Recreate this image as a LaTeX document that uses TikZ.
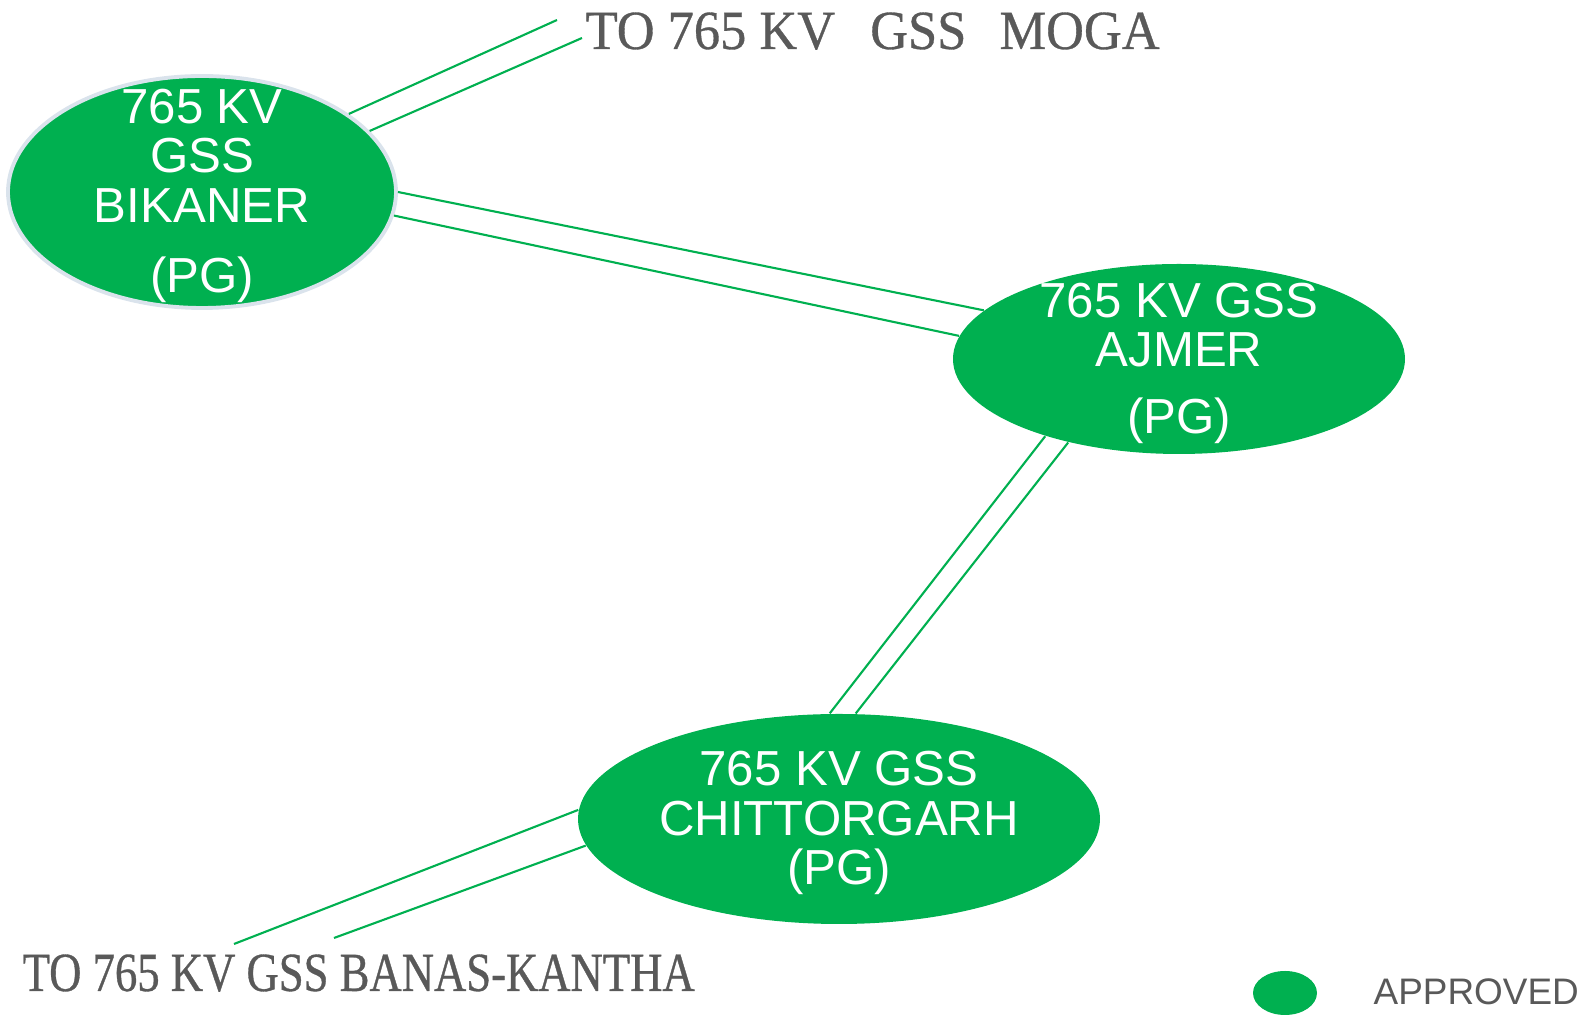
\documentclass[tikz,border=0pt]{standalone}
\usepackage{fontspec}
\setmainfont{Liberation Sans}
\newfontfamily\condserif{Liberation Serif}[FakeStretch=0.81,FakeBold=0.6]
\newfontfamily\wideserif{Liberation Serif}[FakeStretch=0.95,FakeBold=0.6]
\usepackage{tikz}
\usetikzlibrary{shapes.geometric,positioning}

\definecolor{gssgreen}{RGB}{0,176,80}
\definecolor{rimgray}{RGB}{218,227,236}
\definecolor{textgray}{RGB}{89,89,89}

\tikzset{
	station/.style={ellipse, fill=gssgreen, inner sep=0pt},
	stationtext/.style={text=white, align=center, inner sep=0pt, yshift=-0.04cm, font=\fontsize{14}{14}\selectfont},
	feeder/.style={draw=gssgreen, line width=0.6pt},
	farend/.style={text=textgray, inner sep=0pt, anchor=base west},
}

\begin{document}
\begin{tikzpicture}[scale=1]
	\useasboundingbox (0,0) rectangle (15.95,10.16);

		% Stations
		\node[station, draw=rimgray, line width=1.1pt, minimum width=3.88cm, minimum height=2.32cm] (bik) at (2.02,8.24) {};
		\node[station, minimum width=4.52cm, minimum height=1.90cm] (ajm) at (11.79,6.57) {};
		\node[station, minimum width=5.22cm, minimum height=2.10cm] (chit) at (8.39,1.97) {};
		\node[stationtext] (biktxt) at (bik) {765 KV\\GSS\\BIKANER\\[6pt](PG)};
		\node[stationtext] (ajmtxt) at (ajm) {765 KV GSS\\AJMER\\[5pt](PG)};
		\node[stationtext] (chittxt) at (chit) {765 KV GSS\\CHITTORGARH\\(PG)};

		% Far ends
		\node[farend, font=\wideserif\fontsize{15.7}{16}\selectfont] (moga) at (5.85,9.67) {TO 765 KV\hspace{0.22cm} GSS\hspace{0.2cm} MOGA};
		\node[farend, font=\condserif\fontsize{15.7}{16}\selectfont] (banas) at (0.22,0.25) {TO 765 KV GSS BANAS-KANTHA};
		\coordinate (moga1) at (5.57,9.96);
		\coordinate (moga2) at (5.82,9.78);
		\coordinate (banas1) at (2.34,0.72);
		\coordinate (banas2) at (3.34,0.78);

		% Double circuit lines
		\draw[feeder] (bik.28) -- (moga1);
		\draw[feeder] (bik.20) -- (moga2);
		\draw[feeder] (bik.0) -- (ajm.166);
		\draw[feeder] (bik.353) -- (ajm.174);
		\draw[feeder] (ajm.210) -- (chit.95);
		\draw[feeder] (ajm.217) -- (chit.81);
		\draw[feeder] (chit.178) -- (banas1);
		\draw[feeder] (chit.186) -- (banas2);

		% Legend
		\node[station, minimum width=0.64cm, minimum height=0.44cm] (legend) at (12.85,0.23) {};
		\node[anchor=base west, inner sep=0pt, text=textgray, font=\fontsize{10.5}{12}\selectfont] (approved) at (13.73,0.11) {APPROVED};

	\end{tikzpicture}
\end{document}
